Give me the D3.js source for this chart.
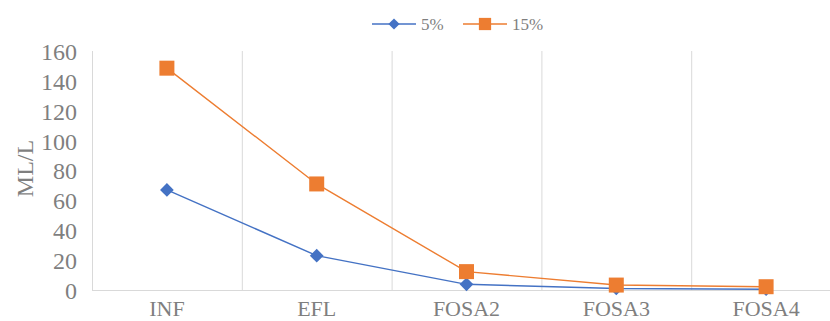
<!DOCTYPE html>
<html>
<head>
<meta charset="utf-8">
<script src="https://cdn.jsdelivr.net/npm/d3@7"></script>
<style>
  body { margin: 0; background: #fff; }
  svg text { font-family: "Liberation Serif", "DejaVu Serif", serif !important; }
</style>
</head>
<body>
<div id="container"></div>
<script>
/* DATA */
const categories = ["INF", "EFL", "FOSA2", "FOSA3", "FOSA4"]
const series5 = [67, 23, 3.8, 1, 0.5]
const series15 = [148.5, 71, 12.3, 3.3, 2.2]
const seriesNames = ["5%", "15%"]
const yTicks = [0, 20, 40, 60, 80, 100, 120, 140, 160]

/* CONSTANTS */
const width = 830,
    height = 321,
    margin = { top: 51, right: -11, bottom: 31, left: 92 }
const serif = "'Liberation Serif', 'DejaVu Serif', serif"
const textColor = "#7f7f7f"

const svg = d3.select("#container")
    .append("svg")
    .attr("width", width)
    .attr("height", height)

// SCALES
const xScale = d3.scaleBand()
    .domain(categories)
    .range([margin.left, width - margin.right])

const yScale = d3.scaleLinear()
    .domain([0, 160])
    .range([height - margin.bottom, margin.top])

// GRID (vertical lines at category boundaries)
const bounds = categories.map(c => xScale(c))
svg.append("g")
    .selectAll("line")
    .data(bounds)
    .join("line")
    .attr("x1", d => d + 0.5)
    .attr("x2", d => d + 0.5)
    .attr("y1", yScale(160))
    .attr("y2", yScale(0))
    .attr("stroke", "#d9d9d9")
    .attr("stroke-width", 1)

// X AXIS LINE
svg.append("line")
    .attr("x1", margin.left)
    .attr("x2", width)
    .attr("y1", yScale(0) + 0.5)
    .attr("y2", yScale(0) + 0.5)
    .attr("stroke", "#d9d9d9")
    .attr("stroke-width", 1)

// AXES
const yAxis = d3.axisLeft(yScale).tickValues(yTicks).tickSize(0).tickPadding(15)
const gy = svg.append("g")
    .attr("transform", "translate(" + margin.left + ",0)")
    .call(yAxis)
    .attr("font-family", serif)
gy.select(".domain").remove()
gy.selectAll("text")
    .attr("fill", textColor)
    .style("font-family", serif)
    .style("font-size", "24px")
    .attr("dy", "0.35em")

const xAxis = d3.axisBottom(xScale).tickSize(0).tickPadding(10)
const gx = svg.append("g")
    .attr("transform", "translate(0," + yScale(0) + ")")
    .call(xAxis)
    .attr("font-family", serif)
gx.select(".domain").remove()
gx.selectAll("text")
    .attr("fill", textColor)
    .style("font-family", serif)
    .style("font-size", "22px")

// Y TITLE
svg.append("text")
    .attr("transform", "rotate(-90)")
    .attr("x", -(yScale(80)) + 2)
    .attr("y", 33)
    .attr("text-anchor", "middle")
    .attr("fill", textColor)
    .style("font-family", serif)
    .style("font-size", "24px")
    .text("ML/L")

// LINES
const line = d3.line()
    .x((d, i) => xScale(categories[i]) + xScale.bandwidth() / 2)
    .y(d => yScale(d))

const colors = ["#4472c4", "#ed7d31"]
const allSeries = [series5, series15]

allSeries.forEach((s, k) => {
    svg.append("path")
        .datum(s)
        .attr("d", line)
        .attr("fill", "none")
        .attr("stroke", colors[k])
        .attr("stroke-width", 1.4)
})

// MARKERS
const diamond = d3.symbol().type(d3.symbolDiamond2).size(120)
const square = d3.symbol().type(d3.symbolSquare).size(225)

svg.append("g")
    .selectAll("path")
    .data(series5)
    .join("path")
    .attr("d", diamond)
    .attr("transform", (d, i) => "translate(" + (xScale(categories[i]) + xScale.bandwidth() / 2) + "," + yScale(d) + ")")
    .attr("fill", colors[0])

svg.append("g")
    .selectAll("path")
    .data(series15)
    .join("path")
    .attr("d", square)
    .attr("transform", (d, i) => "translate(" + (xScale(categories[i]) + xScale.bandwidth() / 2) + "," + yScale(d) + ")")
    .attr("fill", colors[1])

// LEGEND
const legendX = [372, 463]
const legendY = 24
const legend = svg.append("g")
seriesNames.forEach((name, k) => {
    const g = legend.append("g").attr("transform", "translate(" + legendX[k] + "," + legendY + ")")
    g.append("line")
        .attr("x1", 0).attr("x2", 44)
        .attr("y1", 0).attr("y2", 0)
        .attr("stroke", colors[k])
        .attr("stroke-width", 1.4)
    g.append("path")
        .attr("d", k === 0 ? d3.symbol().type(d3.symbolDiamond2).size(80)() : d3.symbol().type(d3.symbolSquare).size(150)())
        .attr("transform", "translate(22,0)")
        .attr("fill", colors[k])
    g.append("text")
        .attr("x", 49)
        .attr("y", 0)
        .attr("dy", "0.35em")
        .attr("fill", textColor)
        .style("font-family", serif)
        .style("font-size", "17px")
        .text(name)
})
</script>
</body>
</html>
